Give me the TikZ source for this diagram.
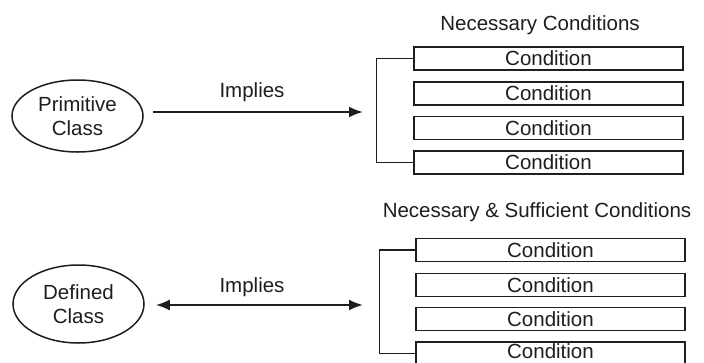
\documentclass[tikz,border=0pt]{standalone}
\usepackage{fontspec}
\setmainfont{Liberation Sans}
\usetikzlibrary{shapes.geometric,arrows.meta}
\definecolor{ink}{HTML}{1E1E1E}
\tikzset{
  condbox/.style={draw=ink, line width=1.5pt, minimum width=269pt, minimum height=23pt, inner sep=0pt, text=ink, font=\fontsize{20.5}{24}\selectfont},
  classell/.style={ellipse, draw=ink, line width=1.5pt, minimum width=131pt, inner sep=0pt, align=center, text=ink, font=\fontsize{20.5}{24.5}\selectfont},
  lbl/.style={text=ink, inner sep=0pt, font=\fontsize{20.5}{24}\selectfont},
  brk/.style={draw=ink, line width=1.5pt},
  arr/.style={draw=ink, line width=2.2pt, -{Latex[length=14pt,width=11pt]}},
  darr/.style={draw=ink, line width=2.2pt, {Latex[length=14pt,width=11pt]}-{Latex[length=14pt,width=11pt]}}
}
\begin{document}
\begin{tikzpicture}[x=1pt,y=-1pt]
\useasboundingbox[fill=white] (0,0) rectangle (704,362);
% top section
\node[lbl] (t0) at (540,25) {Necessary Conditions};
\node[condbox] (t1) at (548.5,58.5) {Condition};
\node[condbox] (t2) at (548.5,93.5) {Condition};
\node[condbox] (t3) at (548.5,128) {Condition};
\node[condbox] (t4) at (548.5,162.5) {Condition};
\draw[brk] (t1.west) -- ++(-37,0) |- (t4.west);
\node[classell, minimum height=72pt] (pc) at (77.5,116) {Primitive\\Class};
\coordinate (ta) at (363,112);
\draw[arr] ([xshift=9pt,yshift=4pt]pc.east) -- (ta);
\node[lbl] (il1) at (252,92) {Implies};
% bottom section
\node[lbl] (b0) at (537,212) {Necessary \& Sufficient Conditions};
\node[condbox] (b1) at (550.5,250) {Condition};
\node[condbox] (b2) at (550.5,285) {Condition};
\node[condbox] (b3) at (550.5,319) {Condition};
\node[condbox] (b4) at (550.5,353.5) {};
\node[lbl] (b4t) at (550.5,351) {Condition};
\draw[brk] (b1.west) -- ++(-36,0) |- (b4.west);
\node[classell, minimum height=78pt] (dc) at (78.5,304) {Defined\\Class};
\coordinate (ba) at (363,305);
\draw[darr] ([xshift=11pt,yshift=-1pt]dc.east) -- (ba);
\node[lbl] (il2) at (252,287) {Implies};
\end{tikzpicture}
\end{document}
